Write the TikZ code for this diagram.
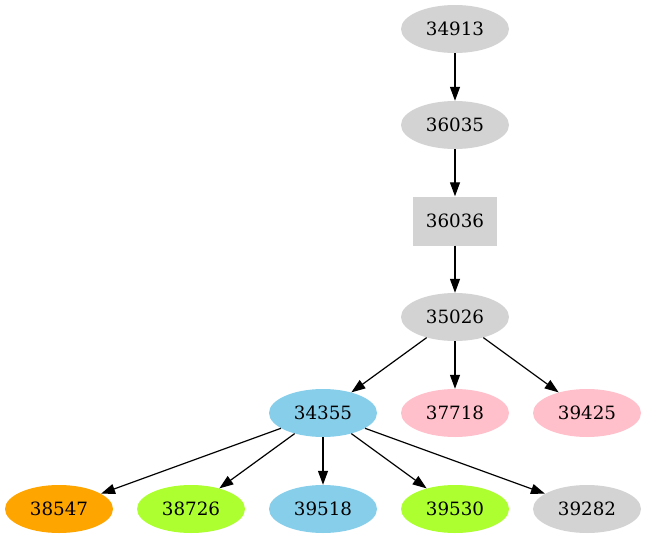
\documentclass[tikz,border=0pt]{standalone}
\usepackage{fontspec}
\setmainfont{DejaVu Serif}
\usetikzlibrary{shapes.geometric,arrows.meta}
\definecolor{lgray}{HTML}{D3D3D3}
\definecolor{sky}{HTML}{87CEEB}
\definecolor{pinkc}{HTML}{FFC0CB}
\definecolor{orangec}{HTML}{FFA500}
\definecolor{gy}{HTML}{ADFF2F}
\tikzset{
  ell/.style={ellipse, inner sep=0pt, minimum width=108pt, minimum height=48pt, font=\fontsize{18.3}{20}\selectfont},
  boxn/.style={rectangle, inner sep=0pt, minimum width=84pt, minimum height=49pt, fill=lgray, font=\fontsize{18.3}{20}\selectfont},
  edge/.style={line width=1.2pt, -{Triangle[length=14pt,width=10pt]}}
}
\begin{document}
\begin{tikzpicture}[x=1pt,y=-1pt]
\useasboundingbox (0,0) rectangle (646,539);
\node[ell, fill=lgray] (n34913) at (455,29) {34913};
\node[ell, fill=lgray] (n36035) at (455,125) {36035};
\node[boxn] (n36036) at (455,221) {36036};
\node[ell, fill=lgray] (n35026) at (455,317) {35026};
\node[ell, fill=sky] (n34355) at (323,413) {34355};
\node[ell, fill=pinkc] (n37718) at (455,413) {37718};
\node[ell, fill=pinkc] (n39425) at (587,413) {39425};
\node[ell, fill=orangec] (n38547) at (59,509) {38547};
\node[ell, fill=gy] (n38726) at (191,509) {38726};
\node[ell, fill=sky] (n39518) at (323,509) {39518};
\node[ell, fill=gy] (n39530) at (455,509) {39530};
\node[ell, fill=lgray] (n39282) at (587,509) {39282};
\draw[edge] (n34913) -- (n36035);
\draw[edge] (n36035) -- (n36036);
\draw[edge] (n36036) -- (n35026);
\draw[edge] (n35026) -- (n34355);
\draw[edge] (n35026) -- (n37718);
\draw[edge] (n35026) -- (n39425);
\draw[edge] (n34355) -- (n38547);
\draw[edge] (n34355) -- (n38726);
\draw[edge] (n34355) -- (n39518);
\draw[edge] (n34355) -- (n39530);
\draw[edge] (n34355) -- (n39282);
\end{tikzpicture}
\end{document}
